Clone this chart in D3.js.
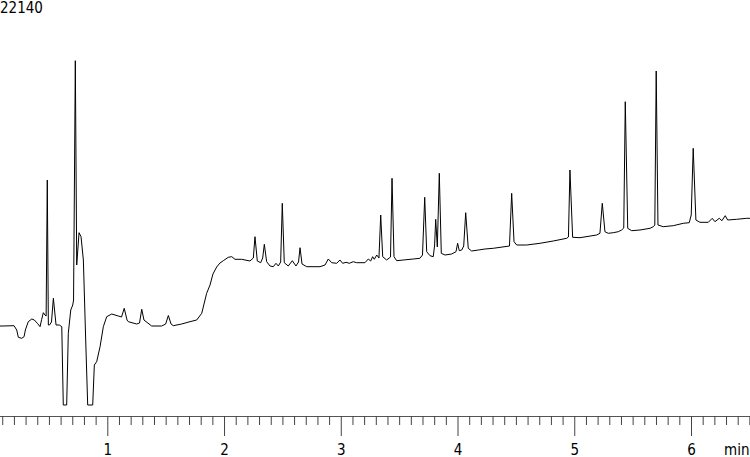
<!DOCTYPE html>
<html>
<head>
<meta charset="utf-8">
<script src="https://cdn.jsdelivr.net/npm/d3@7"></script>
<style>
  html, body { margin: 0; padding: 0; background: #fff; }
  svg { display: block; }
  text { font-family: "DejaVu Sans Condensed", "DejaVu Sans", sans-serif; font-size: 15px; fill: #000; }
</style>
</head>
<body>
<svg id="chart" width="750" height="457"></svg>
<script>
// Retention time (min)
const times = [
  0.081, 0.107, 0.201, 0.224, 0.238, 0.267, 0.287, 0.298, 0.323, 0.353,
  0.375, 0.401, 0.424, 0.438, 0.452, 0.466, 0.476, 0.486, 0.495, 0.505,
  0.522, 0.538, 0.561, 0.589, 0.610, 0.623, 0.652, 0.666, 0.687, 0.704,
  0.711, 0.726, 0.738, 0.758, 0.775, 0.795, 0.815, 0.832, 0.875, 0.889,
  0.909, 0.938, 0.966, 0.995, 1.038, 1.094, 1.122, 1.145, 1.169, 1.180,
  1.252, 1.276, 1.295, 1.314, 1.380, 1.466, 1.500, 1.523, 1.546, 1.565,
  1.637, 1.708, 1.766, 1.809, 1.851, 1.880, 1.905, 1.937, 1.965, 1.994,
  2.036, 2.066, 2.094, 2.151, 2.222, 2.251, 2.265, 2.285, 2.314, 2.331,
  2.345, 2.365, 2.394, 2.422, 2.445, 2.465, 2.485, 2.499, 2.516, 2.550,
  2.585, 2.616, 2.638, 2.651, 2.668, 2.708, 2.779, 2.822, 2.865, 2.893,
  2.922, 2.965, 2.993, 3.016, 3.045, 3.073, 3.107, 3.136, 3.207, 3.236,
  3.256, 3.273, 3.287, 3.308, 3.327, 3.342, 3.359, 3.393, 3.426, 3.439,
  3.456, 3.479, 3.535, 3.621, 3.678, 3.700, 3.719, 3.736, 3.764, 3.792,
  3.804, 3.813, 3.827, 3.844, 3.861, 3.893, 3.950, 3.987, 4.001, 4.015,
  4.036, 4.053, 4.070, 4.092, 4.121, 4.178, 4.235, 4.306, 4.445, 4.464,
  4.484, 4.507, 4.592, 4.706, 4.820, 4.935, 4.950, 4.963, 4.986, 5.049,
  5.192, 5.220, 5.240, 5.263, 5.291, 5.334, 5.377, 5.406, 5.424, 5.437,
  5.458, 5.492, 5.563, 5.649, 5.677, 5.690, 5.702, 5.717, 5.762, 5.848,
  5.934, 5.985, 6.002, 6.019, 6.042, 6.077, 6.148, 6.182, 6.205, 6.242,
  6.265, 6.293, 6.314, 6.391, 6.477, 6.505
];
// Detector signal (arbitrary units)
const signal = [
  90.0, 90.0, 90.3, 86.0, 78.7, 77.7, 79.3, 86.0, 94.3, 97.0,
  96.0, 92.7, 89.3, 96.7, 103.3, 101.0, 100.0, 236.0, 91.0, 91.0,
  94.0, 117.7, 91.0, 91.0, 89.3, 11.0, 11.0, 82.7, 106.0, 111.0,
  116.0, 355.3, 151.0, 183.3, 179.3, 156.0, 76.0, 11.0, 11.0, 51.0,
  54.3, 69.3, 89.3, 99.3, 102.0, 100.0, 99.0, 107.7, 96.0, 94.3,
  92.0, 93.0, 106.7, 96.0, 90.0, 90.0, 92.0, 100.5, 92.0, 90.3,
  92.0, 94.3, 96.0, 102.7, 122.7, 131.0, 142.0, 149.0, 153.0, 155.3,
  158.7, 159.3, 156.7, 156.7, 155.0, 158.0, 179.3, 155.0, 153.3, 158.0,
  171.7, 154.3, 150.0, 149.3, 152.7, 150.0, 154.0, 212.7, 153.3, 150.0,
  155.3, 150.0, 154.0, 168.3, 152.0, 149.3, 149.3, 149.3, 151.0, 157.0,
  153.3, 152.7, 156.0, 152.7, 153.7, 152.7, 154.3, 153.3, 153.3, 157.0,
  155.0, 159.3, 156.7, 161.0, 158.0, 201.0, 159.3, 156.0, 159.0, 237.7,
  159.3, 155.3, 156.0, 157.0, 157.7, 161.0, 218.7, 164.3, 160.3, 159.3,
  171.0, 196.7, 169.0, 242.7, 162.7, 161.0, 162.0, 164.3, 172.7, 165.3,
  166.0, 170.0, 203.3, 167.7, 165.0, 166.0, 167.0, 167.7, 170.0, 222.7,
  174.3, 171.0, 171.0, 172.7, 175.0, 177.7, 179.0, 246.0, 178.7, 178.3,
  181.0, 182.7, 212.7, 184.3, 182.7, 183.3, 184.3, 186.0, 188.0, 314.3,
  187.7, 185.3, 186.0, 187.7, 189.3, 191.0, 345.0, 191.0, 189.3, 190.3,
  192.7, 193.3, 201.0, 267.7, 196.0, 193.7, 193.7, 197.7, 194.3, 197.7,
  195.3, 200.3, 196.0, 196.7, 197.7, 197.7
];
const majorTicks = [1, 2, 3, 4, 5, 6];
const minorTicks = d3.range(1, 66).map(i => i / 10);
const axisUnit = "min";
const scaleLabel = "22140";

const svg = d3.select("#chart");
const W = 750, axisY = 416;

const x = d3.scaleLinear().domain([1, 6]).range([107.3, 691]);
const y = d3.scaleLinear().domain([0, 416]).range([axisY, 0]);

// scale label
svg.append("text").attr("x", 0).attr("y", 13).text(scaleLabel);

// trace
const pts = times.map((t, i) => [t, signal[i]]);
svg.append("path")
  .datum(pts)
  .attr("fill", "none")
  .attr("stroke", "#000")
  .attr("stroke-width", 1)
  .attr("stroke-linejoin", "round")
  .attr("d", d3.line().x(d => x(d[0])).y(d => y(d[1])));

// axis
const g = svg.append("g").attr("transform", `translate(0,${axisY})`);
g.append("line").attr("x1", 0).attr("x2", W).attr("y1", 0.5).attr("y2", 0.5)
  .attr("stroke", "#555").attr("stroke-width", 1);

const minorAxis = d3.axisBottom(x).tickValues(minorTicks.filter(v => !majorTicks.includes(Math.round(v*10)/10)))
  .tickSize(9).tickFormat("");
const gm = g.append("g").call(minorAxis);
gm.select(".domain").remove();
gm.selectAll("line").attr("stroke", "#444");

const majorAxis = d3.axisBottom(x).tickValues(majorTicks).tickSize(20).tickPadding(0)
  .tickFormat(d3.format("d"));
const gM = g.append("g").call(majorAxis);
gM.select(".domain").remove();
gM.selectAll("line").attr("stroke", "#444");
gM.selectAll("text")
  .attr("y", 39)
  .attr("dy", null)
  .style("font-family", '"DejaVu Sans Condensed", "DejaVu Sans", sans-serif')
  .style("font-size", "15px")
  .attr("fill", "#000");

svg.append("text").attr("x", 724).attr("y", axisY + 39).text(axisUnit);
</script>
</body>
</html>
